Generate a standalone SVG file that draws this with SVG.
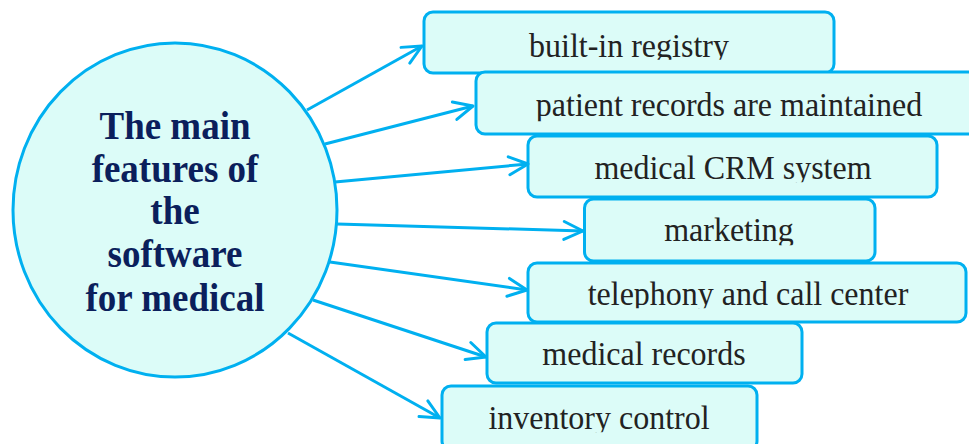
<svg xmlns="http://www.w3.org/2000/svg" width="969" height="444" viewBox="0 0 969 444">
<style>
.box{fill:#dcfcf8;stroke:#00b0f0;stroke-width:3}
.con{stroke:#00b0f0;stroke-width:3;fill:none;marker-end:url(#ah)}
</style>
<defs>
<marker id="ah" markerUnits="userSpaceOnUse" viewBox="-22 -12 26 24" refX="0" refY="0" markerWidth="26" markerHeight="24" orient="auto">
<path d="M-19,-9 L0,0 L-19,9" fill="none" stroke="#00b0f0" stroke-width="3" stroke-linecap="round" stroke-linejoin="round"/>
</marker>
<clipPath id="c1"><rect x="420" y="0" width="420" height="59.5"/></clipPath>
<clipPath id="c2"><rect x="470" y="70" width="499" height="51"/></clipPath>
<clipPath id="c3"><rect x="520" y="130" width="420" height="52"/></clipPath>
<clipPath id="c4"><rect x="580" y="195" width="300" height="50"/></clipPath>
<clipPath id="c5"><rect x="520" y="258" width="449" height="50"/></clipPath>
<clipPath id="c7"><rect x="440" y="383" width="320" height="49"/></clipPath>
</defs>
<g id="hub" font-family="Liberation Serif" font-size="37" font-weight="bold" fill="#0b1f5c" text-anchor="middle">
<ellipse cx="175" cy="210" rx="162" ry="167" class="box"/>
<text x="175" y="139" transform="translate(0,139) scale(1,1.07) translate(0,-139)">The main</text>
<text x="175" y="182" transform="translate(0,182) scale(1,1.07) translate(0,-182)">features of</text>
<text x="175" y="224" transform="translate(0,224) scale(1,1.07) translate(0,-224)">the</text>
<text x="175" y="267" transform="translate(0,267) scale(1,1.07) translate(0,-267)">software</text>
<text x="175" y="311" transform="translate(0,311) scale(1,1.07) translate(0,-311)">for medical</text>
</g>
<g id="nodes" font-family="Liberation Serif" font-size="32" fill="#222" text-anchor="middle">
<g id="n1">
<rect x="424" y="12" width="410" height="61" rx="9" class="box"/>
<text x="629" y="57" clip-path="url(#c1)" transform="translate(0,57) scale(1,1.07) translate(0,-57)">built-in registry</text>
</g>
<g id="n2">
<rect x="476" y="72" width="510" height="62" rx="9" class="box"/>
<text x="729" y="116.5" clip-path="url(#c2)" transform="translate(0,116.5) scale(1,1.07) translate(0,-116.5)">patient records are maintained</text>
</g>
<g id="n3">
<rect x="528" y="136" width="409" height="61" rx="9" class="box"/>
<text x="733" y="179.5" clip-path="url(#c3)" transform="translate(0,179.5) scale(1,1.07) translate(0,-179.5)">medical CRM system</text>
</g>
<g id="n4">
<rect x="584.5" y="199" width="290.5" height="62" rx="9" class="box"/>
<text x="729" y="241.5" clip-path="url(#c4)" transform="translate(0,241.5) scale(1,1.07) translate(0,-241.5)">marketing</text>
</g>
<g id="n5">
<rect x="528" y="263" width="438" height="59" rx="9" class="box"/>
<text x="748" y="305" clip-path="url(#c5)" transform="translate(0,305) scale(1,1.07) translate(0,-305)">telephony and call center</text>
</g>
<g id="n6">
<rect x="487" y="323" width="315" height="60" rx="9" class="box"/>
<text x="644" y="365.5" transform="translate(0,365.5) scale(1,1.07) translate(0,-365.5)">medical records</text>
</g>
<g id="n7">
<rect x="442" y="386" width="315" height="64" rx="9" class="box"/>
<text x="599" y="429.5" clip-path="url(#c7)" transform="translate(0,429.5) scale(1,1.07) translate(0,-429.5)">inventory control</text>
</g>
</g>
<g id="connectors">
<line class="con" x1="307" y1="110" x2="422" y2="46"/>
<line class="con" x1="325" y1="144" x2="473" y2="106"/>
<line class="con" x1="335" y1="182" x2="528" y2="164"/>
<line class="con" x1="337" y1="224" x2="583" y2="231"/>
<line class="con" x1="330" y1="262" x2="527" y2="290"/>
<line class="con" x1="313" y1="300" x2="486" y2="357"/>
<line class="con" x1="288" y1="333" x2="440" y2="418"/>
</g>
</svg>
